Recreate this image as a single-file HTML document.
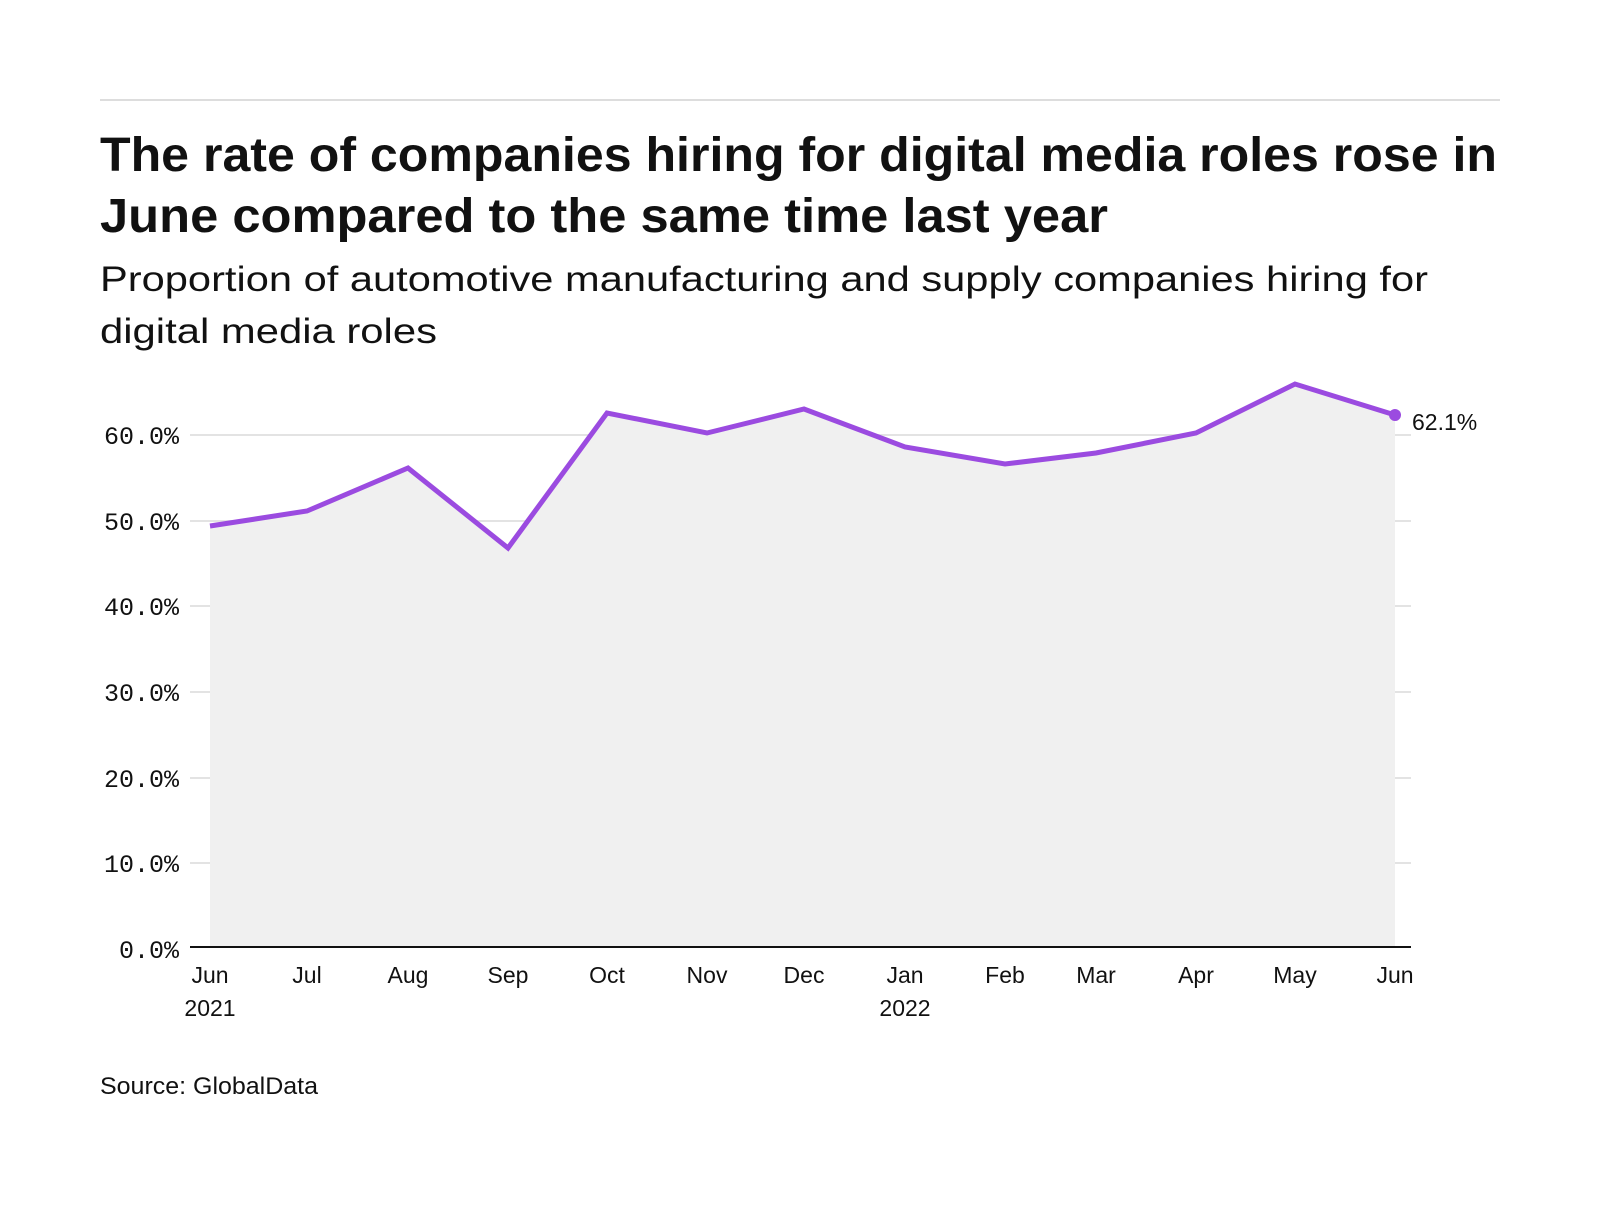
<!DOCTYPE html>
<html><head><style>
body{margin:0;background:#fff;width:1600px;height:1200px;overflow:hidden;font-family:"Liberation Sans",sans-serif;}
</style></head><body>
<svg width="1600" height="1200" xmlns="http://www.w3.org/2000/svg">
<line x1="100" y1="100" x2="1500" y2="100" stroke="#ddd" stroke-width="2"/>
<text x="100" y="171" font-family="Liberation Sans, sans-serif" font-weight="bold" font-size="48" fill="#111" textLength="1397" lengthAdjust="spacingAndGlyphs">The rate of companies hiring for digital media roles rose in</text>
<text x="100" y="232" font-family="Liberation Sans, sans-serif" font-weight="bold" font-size="48" fill="#111" textLength="1008" lengthAdjust="spacingAndGlyphs">June compared to the same time last year</text>
<text x="100" y="291" font-family="Liberation Sans, sans-serif" font-size="35" fill="#111" textLength="1328" lengthAdjust="spacingAndGlyphs">Proportion of automotive manufacturing and supply companies hiring for</text>
<text x="100" y="343" font-family="Liberation Sans, sans-serif" font-size="35" fill="#111" textLength="337" lengthAdjust="spacingAndGlyphs">digital media roles</text>
<g stroke="#e3e3e3" stroke-width="2">
<line x1="190" y1="435" x2="1411" y2="435"/>
<line x1="190" y1="521" x2="1411" y2="521"/>
<line x1="190" y1="606" x2="1411" y2="606"/>
<line x1="190" y1="692" x2="1411" y2="692"/>
<line x1="190" y1="778" x2="1411" y2="778"/>
<line x1="190" y1="863" x2="1411" y2="863"/>
</g>
<g font-family="Liberation Mono, monospace" font-size="25" fill="#111" text-anchor="end">
<text x="179" y="444">60.0%</text>
<text x="179" y="530">50.0%</text>
<text x="179" y="615">40.0%</text>
<text x="179" y="701">30.0%</text>
<text x="179" y="787">20.0%</text>
<text x="179" y="872">10.0%</text>
<text x="179" y="958">0.0%</text>
</g>
<polygon fill="#f0f0f0" points="210,947 210,526 307,511 408,468 508,548 607,413 707,433 804,409 905,447 1005,464 1096,453 1196,433 1295,384 1395,415 1395,947"/>
<polyline fill="none" stroke="#9b4be0" stroke-width="5" stroke-linejoin="miter" points="210,526 307,511 408,468 508,548 607,413 707,433 804,409 905,447 1005,464 1096,453 1196,433 1295,384 1395,415"/>
<circle cx="1395" cy="415" r="6" fill="#9b4be0"/>
<text x="1412" y="430" font-family="Liberation Sans, sans-serif" font-size="23" fill="#111">62.1%</text>
<line x1="190" y1="947" x2="1411" y2="947" stroke="#111" stroke-width="2"/>
<g font-family="Liberation Sans, sans-serif" font-size="23" fill="#111" text-anchor="middle">
<text x="210" y="983">Jun</text><text x="210" y="1016">2021</text>
<text x="307" y="983">Jul</text>
<text x="408" y="983">Aug</text>
<text x="508" y="983">Sep</text>
<text x="607" y="983">Oct</text>
<text x="707" y="983">Nov</text>
<text x="804" y="983">Dec</text>
<text x="905" y="983">Jan</text><text x="905" y="1016">2022</text>
<text x="1005" y="983">Feb</text>
<text x="1096" y="983">Mar</text>
<text x="1196" y="983">Apr</text>
<text x="1295" y="983">May</text>
<text x="1395" y="983">Jun</text>
</g>
<text x="100" y="1094" font-family="Liberation Sans, sans-serif" font-size="24" fill="#111" textLength="218" lengthAdjust="spacingAndGlyphs">Source: GlobalData</text>
</svg>
</body></html>
